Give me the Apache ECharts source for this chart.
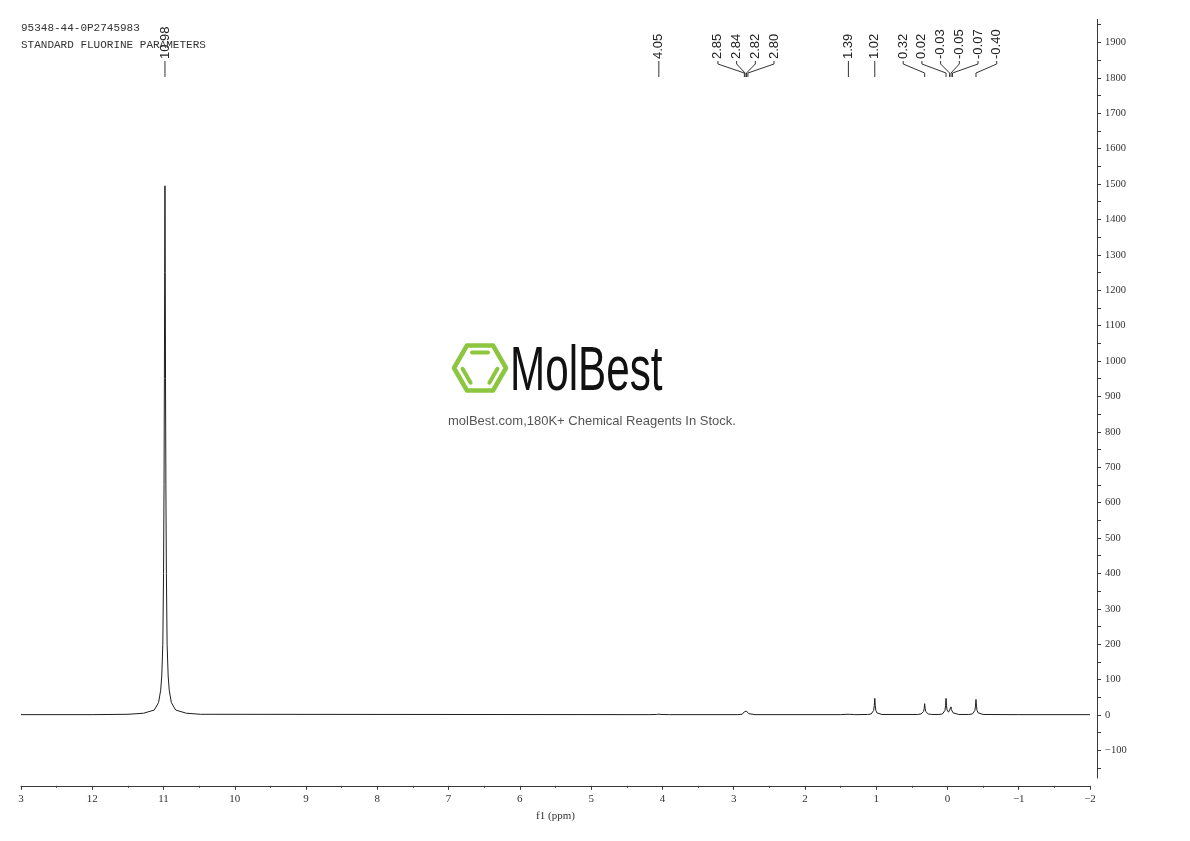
<!DOCTYPE html>
<html><head><meta charset="utf-8">
<script src="https://cdn.jsdelivr.net/npm/echarts@6/dist/echarts.min.js"></script>
<style>html,body{margin:0;padding:0;background:#fff}#c{width:1190px;height:841px}</style>
</head><body><div id="c"></div>
<script>
// ---------- data ----------
const titleLines = ['95348-44-0P2745983', 'STANDARD FLUORINE PARAMETERS'];
const peakLabels = [10.98, 4.05, 2.85, 2.84, 2.82, 2.80, 1.39, 1.02, 0.32, 0.02, -0.03, -0.05, -0.07, -0.40];
const xRange = [-2, 13];
const yTickRange = [-150, 1950];
const yAxisSpan = [-178, 1965];
// spectrum trace, [ppm, intensity]
const specStart = [[13.0, 1], [12.0, 1], [11.5, 2]];
const peak1098 = [[11.48, 2], [11.28, 5], [11.13, 14], [11.07, 35], [11.04, 70], [11.025, 110], [11.01, 200], [11.0, 400],
  [10.993, 650], [10.988, 950], [10.984, 1250], [10.98, 1495], [10.976, 1250], [10.972, 950], [10.967, 650],
  [10.96, 400], [10.95, 200], [10.935, 110], [10.92, 70], [10.89, 35], [10.83, 14], [10.68, 5], [10.48, 2]];
const peak405 = [[4.2, 1], [4.08, 1.5], [4.05, 2.5], [4.02, 1.5], [3.9, 1]];
const peak28x = [[2.95, 1], [2.88, 2], [2.86, 4], [2.85, 9], [2.845, 7], [2.84, 10], [2.83, 8], [2.82, 11], [2.81, 8],
  [2.80, 9], [2.79, 4], [2.77, 2], [2.7, 1]];
const peak139 = [[1.5, 1], [1.41, 2], [1.39, 3], [1.37, 2], [1.3, 1]];
const peak102 = [[1.12, 1.5], [1.07, 3], [1.05, 6], [1.035, 13], [1.027, 26], [1.02, 47], [1.013, 26], [1.005, 13],
  [0.99, 6], [0.97, 3], [0.92, 1.5]];
const peak032 = [[0.42, 1.5], [0.37, 3], [0.35, 5], [0.335, 10], [0.327, 18], [0.32, 32], [0.313, 18], [0.305, 10],
  [0.29, 5], [0.27, 3], [0.22, 1.5]];
const peak002 = [[0.12, 1.5], [0.07, 3], [0.05, 6], [0.035, 13], [0.027, 26], [0.02, 47], [0.013, 26], [0.006, 14],
  [0.0, 10], [-0.015, 8], [-0.025, 12], [-0.03, 14], [-0.04, 10], [-0.045, 15], [-0.05, 23], [-0.055, 15],
  [-0.06, 10], [-0.07, 13], [-0.08, 6], [-0.1, 3], [-0.16, 1.5]];
const peak040 = [[-0.3, 1.5], [-0.35, 3], [-0.37, 6], [-0.385, 13], [-0.393, 25], [-0.40, 44], [-0.407, 25],
  [-0.415, 13], [-0.43, 6], [-0.45, 3], [-0.5, 1.5]];
const specEnd = [[-1.0, 1], [-2.0, 1]];

const spectrum = [].concat(specStart, peak1098, peak405, peak28x, peak139, peak102, peak032, peak002, peak040, specEnd);

// ---------- layout helpers ----------
const H = 841;
const zeroY = 715, pxPerUnit = 0.354;       // y scale of the picture
const gridLeft = 21, gridRight = 100;
function gridFor(minV, maxV) {
  return { left: gridLeft, right: gridRight, top: zeroY - maxV * pxPerUnit, bottom: H - (zeroY - minV * pxPerUnit) };
}
const SP = 18.7 / ((1190 - gridLeft - gridRight) / (xRange[1] - xRange[0])); // label spacing in ppm
function layoutLabels(vals) {
  let cl = vals.map(v => ({ items: [v], c: v }));
  let merged = true;
  while (merged) {
    merged = false;
    for (let i = 0; i < cl.length - 1; i++) {
      const a = cl[i], b = cl[i + 1];
      const aR = a.c - (a.items.length - 1) / 2 * SP;
      const bL = b.c + (b.items.length - 1) / 2 * SP;
      if (aR - bL < SP) {
        const items = a.items.concat(b.items);
        cl.splice(i, 2, { items, c: items.reduce((s, x) => s + x, 0) / items.length });
        merged = true; break;
      }
    }
  }
  const out = [];
  cl.forEach(g => { const n = g.items.length; g.items.forEach((v, k) => out.push([v, g.c + ((n - 1) / 2 - k) * SP])); });
  return out;
}
const labelData = layoutLabels(peakLabels);
const labelTexts = labelData.map(d => d[0].toFixed(2));

const minus = s => String(s).replace('-', '\u2212');
const serif = '"Liberation Serif", "DejaVu Serif", serif';
const axisColor = '#3a3a3a';

const chart = echarts.init(document.getElementById('c'), null, { renderer: 'canvas' });
chart.setOption({
  animation: false,
  backgroundColor: '#fff',
  grid: [gridFor(-200, 2000), gridFor(yAxisSpan[0], yAxisSpan[1]), gridFor(yTickRange[0], yTickRange[1])],
  xAxis: [
    {
      gridIndex: 0, type: 'value', min: xRange[0], max: xRange[1], interval: 1, inverse: true,
      name: 'f1 (ppm)', nameLocation: 'middle', nameGap: 25,
      nameTextStyle: { fontFamily: serif, fontSize: 11, color: '#333' },
      axisLine: { onZero: false, lineStyle: { color: axisColor, width: 1 } },
      axisTick: { length: 4, lineStyle: { color: axisColor } },
      minorTick: { show: true, splitNumber: 2, length: 2, lineStyle: { color: axisColor } },
      splitLine: { show: false },
      axisLabel: { margin: 8, fontFamily: serif, fontSize: 11, color: '#333', showMinLabel: true, showMaxLabel: true,
        formatter: v => v === 13 ? '3' : minus(v) }
    },
    { gridIndex: 1, type: 'value', min: xRange[0], max: xRange[1], inverse: true, show: false, axisLine: { onZero: false } },
    { gridIndex: 2, type: 'value', min: xRange[0], max: xRange[1], inverse: true, show: false, axisLine: { onZero: false } }
  ],
  yAxis: [
    { gridIndex: 0, type: 'value', min: -200, max: 2000, show: false, axisLine: { onZero: false } },
    {
      gridIndex: 1, type: 'value', min: yAxisSpan[0], max: yAxisSpan[1], position: 'right', offset: 7,
      axisLine: { show: true, onZero: false, lineStyle: { color: axisColor, width: 1 } },
      axisTick: { show: false }, axisLabel: { show: false }, splitLine: { show: false }
    },
    {
      gridIndex: 2, type: 'value', min: yTickRange[0], max: yTickRange[1], interval: 50, position: 'right', offset: 7,
      axisLine: { show: false, onZero: false },
      axisTick: { show: true, length: 4, lineStyle: { color: axisColor } },
      splitLine: { show: false },
      axisLabel: { margin: 8, fontFamily: serif, fontSize: 10.5, color: '#333', showMinLabel: true, showMaxLabel: true,
        formatter: v => (Math.round(v) % 100 === 0 ? minus(v) : '') }
    }
  ],
  series: [
    {
      type: 'line', xAxisIndex: 0, yAxisIndex: 0, data: spectrum, showSymbol: false, symbol: 'none',
      lineStyle: { color: '#1e1e1e', width: 1 }, sampling: null, smooth: false, silent: true, clip: true, z: 3
    },
    {
      type: 'custom', xAxisIndex: 0, yAxisIndex: 0, data: labelData, clip: false, silent: true, z: 4,
      renderItem: function (params, api) {
        const px = api.coord([api.value(0), 0])[0];
        const lx = api.coord([api.value(1), 0])[0];
        const txt = labelTexts[params.dataIndex];
        return {
          type: 'group', children: [
            { type: 'text', x: lx, y: 59, rotation: Math.PI / 2,
              style: { text: txt, x: 0, y: 0, align: 'left', verticalAlign: 'middle',
                font: '13px "Liberation Sans", Arial, sans-serif', fill: '#222' } },
            { type: 'polyline', shape: { points: [[lx, 61], [lx, 64], [px, 73], [px, 77]] },
              style: { stroke: '#333', lineWidth: 1, fill: null } }
          ]
        };
      }
    }
  ],
  graphic: [
    { type: 'text', left: 21, top: 20, z: 10, style: { text: titleLines.join('\n'), font: '11px "Liberation Mono", monospace', fill: '#333', lineHeight: 17 } },
    // watermark
    { type: 'polygon', z: 1, shape: { points: [[506, 368], [493, 390.5], [467, 390.5], [454, 368], [467, 345.5], [493, 345.5]] },
      style: { fill: null, stroke: '#8cc63f', lineWidth: 4.5, lineJoin: 'round' } },
    { type: 'polyline', z: 1, shape: { points: [[472, 352.5], [488, 352.5]] }, style: { stroke: '#8cc63f', lineWidth: 4, lineCap: 'round' } },
    { type: 'polyline', z: 1, shape: { points: [[462.6, 368.8], [470.6, 382.7]] }, style: { stroke: '#8cc63f', lineWidth: 4, lineCap: 'round' } },
    { type: 'polyline', z: 1, shape: { points: [[497.4, 368.8], [489.4, 382.7]] }, style: { stroke: '#8cc63f', lineWidth: 4, lineCap: 'round' } },
    { type: 'text', z: 1, x: 510, y: 373, scaleX: 0.67, style: { text: 'MolBest', x: 0, y: 0, align: 'left', verticalAlign: 'middle',
      font: '63px "Liberation Sans", Arial, sans-serif', fill: '#111' } },
    { type: 'text', z: 1, x: 448, y: 421, style: { text: 'molBest.com,180K+ Chemical Reagents In Stock.', x: 0, y: 0, align: 'left', verticalAlign: 'middle',
      font: '13px "Liberation Sans", Arial, sans-serif', fill: '#555' } }
  ]
});
</script>
</body></html>
